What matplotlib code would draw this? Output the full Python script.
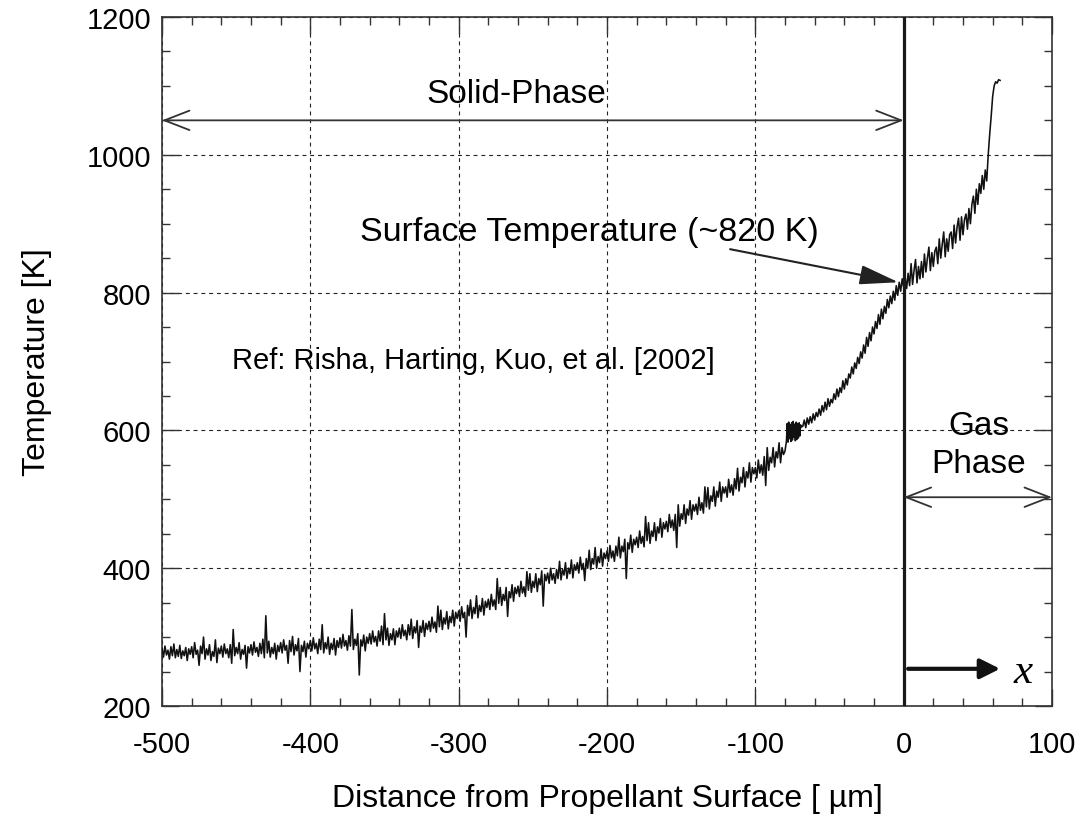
import numpy as np
import matplotlib
matplotlib.use("Agg")
import matplotlib.pyplot as plt
from matplotlib.ticker import MultipleLocator

# ---------------- data ----------------
# solid phase, -500 .. -80 um, every 1 um
temp_solid = [
    284, 271, 287, 274, 281, 268, 286, 273, 290, 270, 282, 272, 288, 269, 280, 273, 285, 266, 283, 275,
    286, 270, 292, 275, 281, 259, 287, 276, 300, 268, 283, 274, 289, 266, 279, 272, 296, 263, 284, 276,
    287, 271, 290, 276, 283, 270, 289, 262, 311, 273, 285, 276, 292, 268, 282, 275, 288, 255, 286, 277,
    289, 274, 293, 278, 285, 272, 291, 276, 297, 270, 331, 277, 294, 271, 285, 276, 291, 268, 288, 279,
    292, 277, 296, 281, 288, 262, 295, 279, 301, 274, 289, 280, 298, 250, 288, 279, 294, 271, 291, 283,
    295, 280, 299, 283, 291, 276, 297, 282, 318, 277, 292, 283, 300, 275, 291, 282, 298, 274, 295, 285,
    299, 284, 304, 287, 295, 281, 302, 287, 340, 282, 297, 288, 305, 245, 296, 287, 303, 280, 300, 291,
    305, 290, 309, 293, 301, 287, 309, 294, 316, 289, 334, 296, 313, 288, 305, 296, 312, 289, 309, 300,
    313, 298, 318, 302, 310, 296, 318, 303, 326, 298, 315, 306, 324, 285, 316, 307, 324, 301, 320, 311,
    323, 308, 329, 313, 322, 307, 345, 315, 339, 311, 328, 319, 337, 312, 330, 321, 339, 316, 336, 327,
    338, 323, 344, 328, 336, 300, 346, 331, 354, 327, 343, 334, 360, 328, 346, 337, 356, 332, 352, 343,
    355, 340, 362, 345, 354, 340, 385, 349, 372, 346, 362, 353, 372, 330, 366, 357, 376, 352, 372, 363,
    374, 359, 381, 364, 373, 359, 395, 368, 392, 365, 381, 372, 392, 366, 385, 376, 396, 345, 391, 382,
    393, 378, 400, 383, 392, 378, 398, 385, 410, 383, 398, 390, 408, 385, 400, 392, 412, 386, 405, 397,
    408, 393, 416, 398, 407, 382, 414, 400, 426, 398, 414, 406, 430, 400, 417, 408, 428, 403, 422, 414,
    425, 410, 433, 415, 425, 410, 432, 418, 445, 415, 432, 424, 442, 385, 437, 428, 448, 423, 442, 434,
    445, 430, 454, 436, 446, 431, 475, 440, 466, 436, 454, 446, 466, 440, 460, 451, 472, 445, 466, 457,
    468, 453, 478, 459, 470, 455, 478, 430, 492, 461, 479, 471, 492, 465, 486, 477, 498, 471, 492, 483,
    493, 478, 503, 484, 495, 480, 518, 489, 517, 486, 505, 497, 518, 490, 512, 503, 525, 497, 518, 509,
    518, 503, 529, 510, 521, 506, 530, 515, 545, 512, 532, 524, 546, 518, 540, 531, 553, 525, 546, 537,
    546, 531, 557, 538, 550, 535, 562, 520, 575, 542, 561, 553, 575, 547, 569, 560, 582, 553, 575, 565,
    570,
]
# oscillating block, -79 .. -69 um, every 0.5 um
temp_block = [
    585, 610, 583, 612, 588, 608, 584, 611, 586, 613,
    590, 609, 585, 612, 587, 610, 589, 611, 592, 608, 605,
]
# near-surface and gas phase, -68 .. 65 um, every 1 um
temp_near = [
    606, 615, 604, 618, 609, 620, 611, 624, 615, 626,
    620, 631, 622, 636, 627, 641, 630, 646, 635, 645,
    640, 653, 645, 660, 649, 662, 655, 672, 660, 675,
    666, 682, 676, 692, 682, 698, 690, 706, 697, 714,
    705, 724, 712, 735, 722, 742, 730, 750, 740, 758,
    748, 768, 754, 776, 762, 780, 770, 790, 778, 795,
    784, 802, 789, 810, 796, 815, 802, 820, 808, 822,
    806, 828, 810, 842, 812, 832, 848, 814, 838, 820,
    845, 822, 856, 830, 850, 866, 832, 858, 838, 860,
    866, 842, 878, 850, 870, 888, 852, 878, 860, 884,
    888, 864, 898, 872, 895, 908, 876, 910, 884, 906,
    914, 892, 922, 900, 928, 940, 915, 950, 928, 958,
    944, 970, 950, 978, 962,
    1000, 1030, 1056, 1085, 1100, 1106, 1104, 1109, 1108,
]

x_ticks = [-500, -400, -300, -200, -100, 0, 100]
y_ticks = [200, 400, 600, 800, 1000, 1200]

x_solid = np.linspace(-500, -80, len(temp_solid))
x_block = np.linspace(-79, -69, len(temp_block))
x_near = np.linspace(-68, 65, len(temp_near))
dist = np.concatenate([x_solid, x_block, x_near])
temp = np.concatenate([temp_solid, temp_block, temp_near])

# ---------------- figure ----------------
plt.rcParams["font.family"] = ["Liberation Sans", "DejaVu Sans"]
plt.rcParams["axes.unicode_minus"] = False

W, H = 1078, 820
fig = plt.figure(figsize=(W / 100, H / 100), dpi=100)
ax = fig.add_axes([162 / W, 113 / H, 890 / W, 689 / H])

ax.plot(dist, temp, color="#111111", lw=1.15, zorder=3)

ax.set_xlim(-500, 100)
ax.set_ylim(200, 1200)
ax.set_xticks(x_ticks)
ax.set_yticks(y_ticks)
ax.xaxis.set_minor_locator(MultipleLocator(20))
ax.yaxis.set_minor_locator(MultipleLocator(50))
ax.tick_params(which="both", direction="in", top=True, right=True,
               color="#333333", width=1.0)
ax.tick_params(which="major", length=12, labelsize=21)
ax.tick_params(axis="x", which="major", pad=17)
ax.tick_params(axis="y", which="major", pad=8)
ax.tick_params(which="minor", length=6)
for s in ax.spines.values():
    s.set_linewidth(1.2)
    s.set_color("#333333")

ax.grid(True, which="major", color="#222222", lw=0.8, linestyle=(0, (3.5, 3.5)))
ax.set_axisbelow(True)

ax.axvline(0, color="#1a1a1a", lw=2.3, zorder=4)

ax.set_xlabel("Distance from Propellant Surface [ \u00b5m]", fontsize=23, labelpad=18)
ax.set_ylabel("Temperature [K]", fontsize=23, labelpad=25)

# Solid-phase annotation
ax.annotate("", xy=(0, 1050), xytext=(-500, 1050),
            arrowprops=dict(arrowstyle="<->,head_length=0.9,head_width=0.35",
                            lw=1.3, color="#333333", mutation_scale=20,
                            shrinkA=0, shrinkB=0), zorder=5)
ax.text(-261, 1077, "Solid-Phase", fontsize=24, ha="center", va="baseline")

# Surface temperature annotation
ax.text(-212, 877, "Surface Temperature (~820 K)", fontsize=24.5,
        ha="center", va="baseline")
ax.annotate("", xy=(-3.5, 815), xytext=(-117, 863),
            arrowprops=dict(arrowstyle="-|>,head_length=1.2,head_width=0.3",
                            lw=1.5, color="#222222", mutation_scale=20,
                            shrinkA=0, shrinkB=0), zorder=5)

# Reference text
ax.text(-453, 690, "Ref: Risha, Harting, Kuo, et al. [2002]", fontsize=21,
        ha="left", va="baseline")

# Gas phase annotation
ax.text(50.5, 595, "Gas", fontsize=24, ha="center", va="baseline")
ax.text(50.5, 540, "Phase", fontsize=24, ha="center", va="baseline")
ax.annotate("", xy=(100, 503), xytext=(0, 503),
            arrowprops=dict(arrowstyle="<->,head_length=0.9,head_width=0.35",
                            lw=1.3, color="#333333", mutation_scale=20,
                            shrinkA=0, shrinkB=0), zorder=5)

# x-direction arrow
ax.annotate("", xy=(65, 254), xytext=(3, 254),
            arrowprops=dict(arrowstyle="-|>,head_length=0.6,head_width=0.3",
                            lw=3.0, color="#111111", mutation_scale=20,
                            shrinkA=0, shrinkB=0), zorder=5)
ax.text(80.5, 235, "x", fontsize=31, fontstyle="italic",
        family=["Liberation Serif", "DejaVu Serif"], ha="center", va="baseline")

fig.savefig("out.png", dpi=100)
